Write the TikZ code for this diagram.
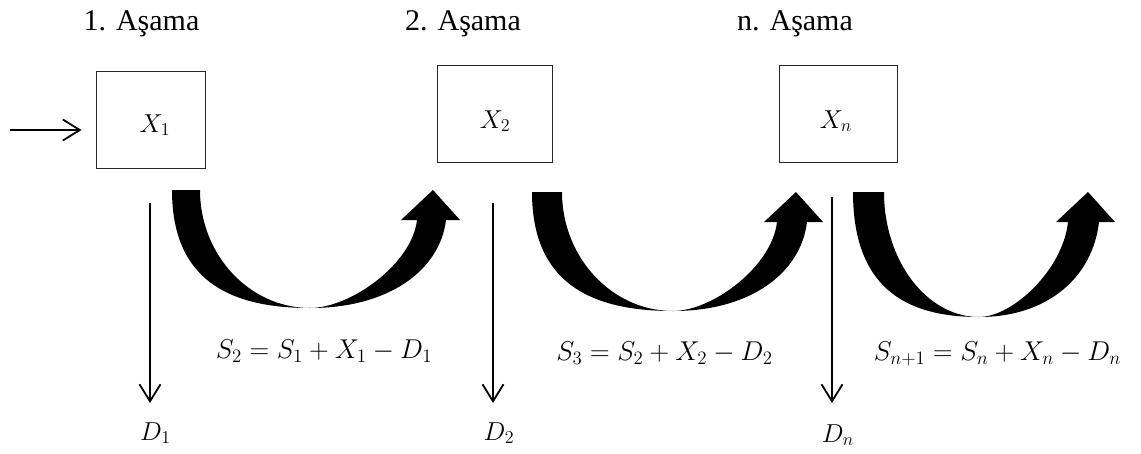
\documentclass[tikz,border=0pt]{standalone}
\usepackage[no-math]{fontspec}
\setmainfont{Liberation Serif}
\newfontfamily\trfont{Liberation Serif}
\usetikzlibrary{arrows.meta}
% #1 origin, #2 band width, #3 bottom x, #4 bottom y, #5 tip x, #6 shaft left, #7 shaft right
\newcommand\FatArrow[7]{%
  \begin{scope}[shift={(#1)}]
    \fill[fatfill] (0,0) -- (#2,0)
      .. controls (#2,{0.55*#4}) and ({#3-0.55*(#3-#2)},#4) .. (#3,#4)
      .. controls ({#3+0.38*(#6-#3)},#4) and ({#6-5},{30+0.5*(#4-30)}) .. (#6,30)
      -- ({#5-32},30) -- (#5,0) -- ({#5+27},30) -- (#7,30)
      .. controls ({#7-6},{30+0.56*(#4-30)}) and ({#3+0.59*(#7-#3)},#4) .. (#3,#4)
      .. controls ({0.4*#3},#4) and (0,{0.75*#4}) .. (0,0) -- cycle;
  \end{scope}}
\begin{document}
\begin{tikzpicture}[x=1pt,y=-1pt,
  box/.style={draw=black!85, line width=0.9pt, minimum height=97pt, inner sep=0pt},
  mathlbl/.style={anchor=base, inner sep=0pt, scale=1.25, font=\fontsize{20.74}{25}\selectfont},
  eqlbl/.style={mathlbl, scale=1.05},
  title/.style={anchor=base, inner sep=0pt, font=\trfont\fontsize{30}{36}\selectfont},
  thinarrow/.style={line width=1.8pt, -{Straight Barb[length=17pt,width=21pt,line width=1.8pt]}},
  fatfill/.style={fill=black}]
\useasboundingbox (0,0) rectangle (1141,453);

% titles
\node[title] (t1) at (141.5,30) {1. Aşama};
\node[title] (t2) at (463,30) {2. Aşama};
\node[title] (tn) at (795,30) {n. Aşama};

% boxes
\node[box, minimum width=109pt] (b1) at (150.5,119.5) {};
\node[box, minimum width=115pt] (b2) at (494.5,114) {};
\node[box, minimum width=118pt] (bn) at (838,113.5) {};
\node[mathlbl] (x1) at (155,132) {$X_1$};
\node[mathlbl] (x2) at (495,128) {$X_2$};
\node[mathlbl] (xn) at (836,128) {$X_n$};

% input arrow
\coordinate (in) at (10,130);
\draw[thinarrow, shorten >=14pt] (in) -- (in -| b1.west);

% outflow arrows
\coordinate (d1a) at (150,203);
\coordinate (d1b) at (150,403);
\coordinate (d2a) at (493,203);
\coordinate (d2b) at (493,403);
\coordinate (dna) at (832,197);
\coordinate (dnb) at (832,403);
\draw[thinarrow] (d1a) -- (d1b);
\draw[thinarrow] (d2a) -- (d2b);
\draw[thinarrow] (dna) -- (dnb);

\node[mathlbl] (d1) at (155.5,440) {$D_1$};
\node[mathlbl] (d2) at (499,440) {$D_2$};
\node[mathlbl] (dn) at (838,442) {$D_n$};

% fat curved arrows
\FatArrow{172,190}{28}{138}{118}{261}{245}{274}
\FatArrow{532,192}{30}{141}{119}{264}{245}{275}
\FatArrow{853,192}{31}{126}{125}{235}{215}{246}

% equations
\node[eqlbl] (e1) at (324,358) {$S_2 = S_1 + X_1 - D_1$};
\node[eqlbl] (e2) at (664.5,360) {$S_3 = S_2 + X_2 - D_2$};
\node[eqlbl] (e3) at (997.5,360) {$S_{n+1} = S_n + X_n - D_n$};
\end{tikzpicture}
\end{document}
